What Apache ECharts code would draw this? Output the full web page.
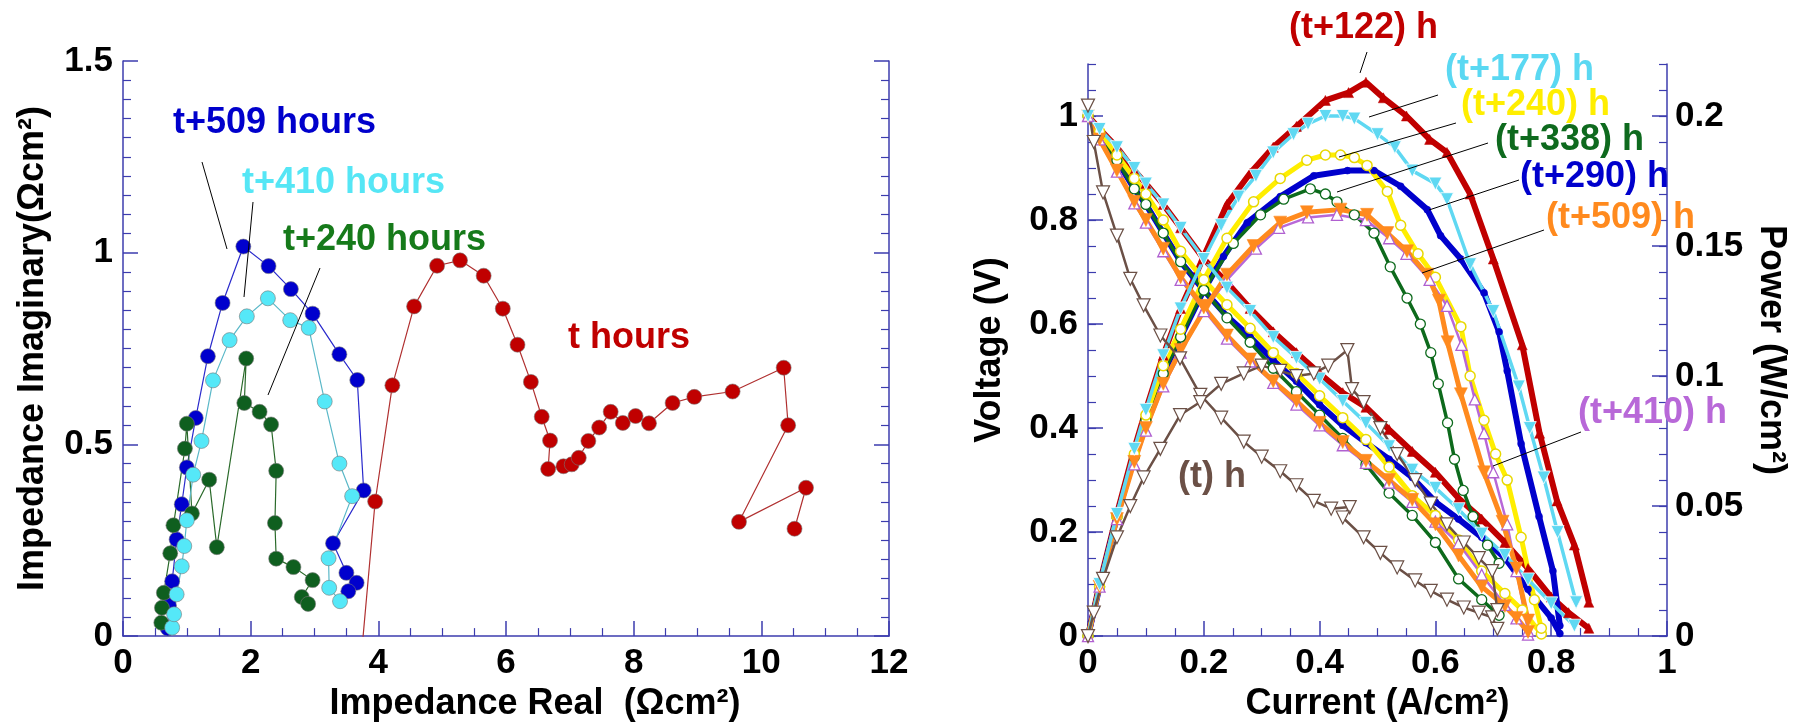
<!DOCTYPE html>
<html>
<head>
<meta charset="utf-8">
<style>
  html, body { margin: 0; padding: 0; background: #fff; }
  #main { width: 1798px; height: 727px; }
</style>
<script src="https://cdn.jsdelivr.net/npm/echarts/dist/echarts.min.js"></script>
</head>
<body>
<div id="main"></div>
<script>
  // Nyquist plot (left): [real, imaginary] in Ohm cm2
  var nyqT = [[3.74, -0.04], [3.95, 0.351], [4.22, 0.654], [4.56, 0.86], [4.92, 0.966], [5.28, 0.98], [5.65, 0.94],
    [5.95, 0.854], [6.18, 0.76], [6.39, 0.663], [6.56, 0.572], [6.69, 0.51], [6.66, 0.436], [6.90, 0.443],
    [7.03, 0.448], [7.14, 0.465], [7.29, 0.509], [7.46, 0.544], [7.64, 0.585], [7.83, 0.556], [8.03, 0.574],
    [8.24, 0.555], [8.61, 0.608], [8.95, 0.624], [9.55, 0.638], [10.35, 0.70], [10.42, 0.55], [9.65, 0.298],
    [10.70, 0.387], [10.52, 0.28]];
  var nyq240 = [[0.60, 0.035], [0.61, 0.074], [0.64, 0.113], [0.74, 0.216], [0.79, 0.289], [0.97, 0.489], [1.0, 0.554],
    [1.08, 0.32], [1.35, 0.408], [1.47, 0.232], [1.93, 0.724], [1.90, 0.608], [2.14, 0.585], [2.32, 0.552],
    [2.40, 0.431], [2.38, 0.295], [2.40, 0.202], [2.67, 0.180], [2.97, 0.146], [2.80, 0.102], [2.90, 0.084]];
  var nyq410 = [[0.77, 0.022], [0.80, 0.057], [0.84, 0.109], [0.92, 0.182], [0.96, 0.235], [1.0, 0.302], [1.10, 0.421],
    [1.23, 0.509], [1.41, 0.667], [1.67, 0.772], [1.94, 0.834], [2.27, 0.881], [2.62, 0.824], [2.91, 0.804],
    [3.16, 0.612], [3.39, 0.450], [3.59, 0.365], [3.22, 0.203], [3.23, 0.126], [3.40, 0.091]];
  var nyq509 = [[0.70, 0.02], [0.72, 0.08], [0.77, 0.143], [0.84, 0.252], [0.92, 0.344], [1.0, 0.44], [1.14, 0.569],
    [1.33, 0.73], [1.56, 0.869], [1.885, 1.016], [2.28, 0.965], [2.63, 0.905], [2.97, 0.841], [3.39, 0.735],
    [3.67, 0.668], [3.77, 0.38], [3.29, 0.242], [3.50, 0.165], [3.66, 0.139], [3.53, 0.117]];

  // Polarisation curves (right): [current A/cm2, voltage V]
  var volt122 = [[0, 1.0], [0.02, 0.975], [0.05, 0.94], [0.08, 0.895], [0.1, 0.87], [0.13, 0.83], [0.16, 0.785], [0.2, 0.725],
    [0.24, 0.68], [0.28, 0.63], [0.32, 0.585], [0.36, 0.545], [0.4, 0.505], [0.44, 0.468], [0.48, 0.44], [0.52, 0.397],
    [0.56, 0.355], [0.6, 0.315], [0.64, 0.265], [0.68, 0.225], [0.72, 0.18], [0.76, 0.13], [0.8, 0.075], [0.83, 0.045],
    [0.865, 0.015]];
  var volt177 = [[0, 1.0], [0.02, 0.975], [0.05, 0.94], [0.08, 0.9], [0.1, 0.87], [0.13, 0.83], [0.16, 0.785], [0.2, 0.725],
    [0.24, 0.67], [0.28, 0.625], [0.32, 0.575], [0.36, 0.535], [0.4, 0.495], [0.44, 0.452], [0.48, 0.41], [0.52, 0.365],
    [0.56, 0.32], [0.6, 0.285], [0.64, 0.244], [0.68, 0.197], [0.72, 0.156], [0.76, 0.109], [0.8, 0.063], [0.84, 0.02]];
  var volt240 = [[0, 1.0], [0.02, 0.97], [0.05, 0.925], [0.08, 0.88], [0.1, 0.85], [0.13, 0.8], [0.16, 0.74], [0.2, 0.685],
    [0.24, 0.637], [0.28, 0.592], [0.32, 0.545], [0.36, 0.505], [0.4, 0.462], [0.44, 0.42], [0.48, 0.378], [0.52, 0.325],
    [0.56, 0.27], [0.6, 0.232], [0.64, 0.185], [0.68, 0.125], [0.72, 0.082], [0.75, 0.05], [0.783, 0.004]];
  var volt290 = [[0, 1.0], [0.02, 0.965], [0.05, 0.915], [0.08, 0.86], [0.1, 0.83], [0.13, 0.775], [0.16, 0.72], [0.2, 0.665],
    [0.24, 0.615], [0.28, 0.575], [0.32, 0.53], [0.36, 0.49], [0.4, 0.445], [0.44, 0.405], [0.48, 0.372], [0.52, 0.34],
    [0.56, 0.305], [0.6, 0.258], [0.64, 0.225], [0.68, 0.19], [0.72, 0.15], [0.76, 0.09], [0.8, 0.035], [0.815, 0.005]];
  var volt338 = [[0, 1.0], [0.02, 0.965], [0.05, 0.915], [0.08, 0.86], [0.1, 0.83], [0.13, 0.775], [0.16, 0.72], [0.2, 0.665],
    [0.24, 0.612], [0.28, 0.565], [0.32, 0.515], [0.36, 0.47], [0.4, 0.425], [0.44, 0.38], [0.48, 0.33], [0.52, 0.275],
    [0.56, 0.232], [0.6, 0.18], [0.64, 0.11], [0.68, 0.07], [0.71, 0.04]];
  var volt509 = [[0, 1.0], [0.02, 0.955], [0.05, 0.895], [0.08, 0.835], [0.1, 0.8], [0.13, 0.745], [0.16, 0.69], [0.2, 0.632],
    [0.24, 0.578], [0.28, 0.532], [0.32, 0.49], [0.36, 0.452], [0.4, 0.41], [0.44, 0.373], [0.48, 0.337], [0.52, 0.3],
    [0.56, 0.262], [0.6, 0.215], [0.64, 0.155], [0.68, 0.095], [0.72, 0.058], [0.74, 0.035], [0.76, 0.008]];
  var volt410 = [[0, 1.0], [0.02, 0.955], [0.05, 0.893], [0.08, 0.832], [0.1, 0.795], [0.13, 0.74], [0.16, 0.685], [0.2, 0.627],
    [0.24, 0.572], [0.28, 0.528], [0.32, 0.487], [0.36, 0.445], [0.4, 0.405], [0.44, 0.367], [0.48, 0.333], [0.52, 0.295],
    [0.56, 0.258], [0.6, 0.22], [0.64, 0.178], [0.68, 0.118], [0.72, 0.06], [0.74, 0.034], [0.76, 0.003]];
  var voltT = [[0, 1.02], [0.01, 0.95], [0.026, 0.853], [0.05, 0.77], [0.073, 0.687], [0.096, 0.636], [0.125, 0.578],
    [0.159, 0.534], [0.194, 0.464], [0.23, 0.42], [0.269, 0.374], [0.3, 0.345], [0.332, 0.317], [0.36, 0.29], [0.39, 0.26],
    [0.42, 0.245], [0.452, 0.248], [0.44, 0.228], [0.476, 0.19], [0.505, 0.16], [0.534, 0.132], [0.565, 0.107],
    [0.592, 0.087], [0.62, 0.07], [0.649, 0.055], [0.675, 0.045], [0.698, 0.036], [0.707, 0.014]];

  // Power curves (right): [current A/cm2, power W/cm2]
  var pow122 = [[0, 0], [0.02, 0.02], [0.05, 0.047], [0.08, 0.072], [0.1, 0.087], [0.13, 0.108], [0.16, 0.126], [0.2, 0.146],
    [0.24, 0.166], [0.28, 0.178], [0.32, 0.188], [0.36, 0.196], [0.41, 0.206], [0.45, 0.209], [0.48, 0.213], [0.51, 0.207],
    [0.55, 0.2], [0.59, 0.191], [0.62, 0.186], [0.66, 0.17], [0.7, 0.145], [0.75, 0.112], [0.78, 0.078], [0.81, 0.052],
    [0.84, 0.035], [0.865, 0.013]];
  var pow177 = [[0, 0], [0.02, 0.02], [0.05, 0.047], [0.08, 0.072], [0.1, 0.087], [0.13, 0.108], [0.16, 0.126], [0.2, 0.145],
    [0.23, 0.158], [0.26, 0.169], [0.29, 0.177], [0.32, 0.186], [0.355, 0.193], [0.38, 0.197], [0.41, 0.2], [0.44, 0.2],
    [0.46, 0.199], [0.5, 0.193], [0.53, 0.188], [0.56, 0.179], [0.6, 0.174], [0.62, 0.168], [0.66, 0.143], [0.7, 0.125],
    [0.744, 0.096], [0.763, 0.08], [0.787, 0.061], [0.811, 0.04], [0.843, 0.013]];
  var pow240 = [[0, 0], [0.02, 0.019], [0.05, 0.046], [0.08, 0.07], [0.1, 0.085], [0.13, 0.104], [0.16, 0.118], [0.2, 0.137],
    [0.24, 0.153], [0.286, 0.167], [0.332, 0.176], [0.378, 0.183], [0.41, 0.185], [0.436, 0.185], [0.46, 0.184],
    [0.482, 0.181], [0.517, 0.171], [0.54, 0.158], [0.57, 0.147], [0.6, 0.138], [0.644, 0.119], [0.66, 0.1],
    [0.684, 0.083], [0.704, 0.07], [0.724, 0.06], [0.748, 0.038], [0.771, 0.014], [0.783, 0.003]];
  var pow290 = [[0, 0], [0.02, 0.019], [0.05, 0.046], [0.08, 0.069], [0.1, 0.083], [0.13, 0.101], [0.16, 0.115], [0.2, 0.133],
    [0.234, 0.146], [0.275, 0.159], [0.332, 0.169], [0.39, 0.177], [0.448, 0.179], [0.494, 0.179], [0.54, 0.173],
    [0.586, 0.164], [0.609, 0.154], [0.644, 0.145], [0.684, 0.132], [0.71, 0.117], [0.724, 0.102], [0.748, 0.074],
    [0.779, 0.046], [0.803, 0.025], [0.815, 0.004]];
  var pow338 = [[0, 0], [0.02, 0.019], [0.05, 0.046], [0.08, 0.069], [0.1, 0.083], [0.13, 0.101], [0.16, 0.115], [0.2, 0.133],
    [0.251, 0.151], [0.298, 0.162], [0.338, 0.168], [0.384, 0.172], [0.41, 0.17], [0.43, 0.167], [0.46, 0.162],
    [0.494, 0.155], [0.522, 0.142], [0.551, 0.13], [0.574, 0.12], [0.592, 0.109], [0.605, 0.097], [0.621, 0.082],
    [0.633, 0.068], [0.648, 0.056], [0.665, 0.046], [0.69, 0.035], [0.71, 0.028]];
  var pow509 = [[0, 0], [0.02, 0.019], [0.05, 0.045], [0.08, 0.067], [0.1, 0.08], [0.13, 0.097], [0.16, 0.11], [0.205, 0.127],
    [0.24, 0.139], [0.286, 0.15], [0.332, 0.159], [0.378, 0.163], [0.436, 0.164], [0.482, 0.162], [0.517, 0.155],
    [0.551, 0.148], [0.586, 0.139], [0.606, 0.129], [0.621, 0.113], [0.644, 0.093], [0.684, 0.063], [0.716, 0.044],
    [0.74, 0.026], [0.76, 0.006]];
  var pow410 = [[0, 0], [0.02, 0.019], [0.05, 0.045], [0.08, 0.066], [0.1, 0.079], [0.13, 0.096], [0.16, 0.109], [0.2, 0.125],
    [0.24, 0.137], [0.29, 0.149], [0.33, 0.157], [0.38, 0.161], [0.43, 0.162], [0.48, 0.16], [0.52, 0.153], [0.55, 0.147],
    [0.59, 0.137], [0.62, 0.127], [0.645, 0.112], [0.668, 0.091], [0.684, 0.078], [0.7, 0.063], [0.724, 0.043],
    [0.74, 0.025], [0.76, 0.002]];
  var powT = [[0, 0], [0.01, 0.009], [0.026, 0.022], [0.05, 0.038], [0.073, 0.05], [0.096, 0.061], [0.125, 0.072],
    [0.159, 0.085], [0.194, 0.09], [0.23, 0.097], [0.269, 0.101], [0.3, 0.104], [0.332, 0.102], [0.36, 0.1], [0.39, 0.101],
    [0.415, 0.104], [0.448, 0.11], [0.456, 0.095], [0.476, 0.09], [0.505, 0.08], [0.534, 0.07], [0.565, 0.06],
    [0.592, 0.051], [0.62, 0.043], [0.649, 0.036], [0.675, 0.03], [0.698, 0.025], [0.707, 0.01]];

  var voltMajor = [0, 0.2, 0.4, 0.6, 0.8, 1];
  var powMajor = [0, 0.05, 0.1, 0.15, 0.2];

  var axisBlue = '#3c3cae';
  var font = 'Liberation Sans';

  function onlyEvery(step) {
    return function (v) {
      var k = v / step;
      return Math.abs(k - Math.round(k)) < 1e-6 ? String(+v.toFixed(2)) : '';
    };
  }

  function axisBase(extra) {
    var a = {
      axisLine: { show: true, onZero: false, lineStyle: { color: axisBlue, width: 1.5 } },
      axisTick: { show: true, inside: true, length: 15, lineStyle: { color: axisBlue, width: 1.5 } },
      axisLabel: { color: '#000', fontSize: 35, fontWeight: 'bold', fontFamily: font, margin: 10 },
      splitLine: { show: false },
      nameTextStyle: { color: '#000', fontSize: 36, fontWeight: 'bold', fontFamily: font }
    };
    for (var k in extra) a[k] = extra[k];
    return a;
  }

  function nyqSeries(name, data, fill, line) {
    return {
      name: name, type: 'line', xAxisIndex: 0, yAxisIndex: 0, data: data,
      symbol: 'circle', symbolSize: 15, clip: true,
      lineStyle: { color: line, width: 1.2 },
      itemStyle: { color: fill, borderColor: '#777', borderWidth: 0.6 }
    };
  }

  function polSeries(name, data, axis, opt) {
    return {
      name: name, type: 'line', xAxisIndex: 1, yAxisIndex: axis, data: data,
      symbol: opt.symbol, symbolSize: opt.size, symbolRotate: opt.rotate || 0, clip: true,
      lineStyle: { color: opt.line, width: opt.width },
      itemStyle: { color: opt.fill, borderColor: opt.border, borderWidth: opt.bw }
    };
  }

  var sty = {
    r122: { symbol: 'triangle', size: 10, line: '#c00000', width: 6, fill: '#c00000', border: '#c00000', bw: 0.5 },
    b290: { symbol: 'circle', size: 7, line: '#0000cc', width: 6, fill: '#0000cc', border: '#0000cc', bw: 0.5 },
    g338: { symbol: 'circle', size: 10, line: '#0d6a1c', width: 3.5, fill: '#fff', border: '#0d6a1c', bw: 1.3 },
    y240: { symbol: 'circle', size: 10, line: '#ffee00', width: 5, fill: '#fff', border: '#e8d800', bw: 1.5 },
    p410: { symbol: 'triangle', size: 11, line: '#b868d8', width: 2.5, fill: '#fff', border: '#b060d0', bw: 1.3 },
    o509: { symbol: 'triangle', size: 13, rotate: 180, line: '#ff8a1e', width: 5, fill: '#ff8a1e', border: '#ff8a1e', bw: 0.5 },
    c177: { symbol: 'triangle', size: 13, rotate: 180, line: '#5fd8f2', width: 3.5, fill: '#5fd8f2', border: '#fff', bw: 0.8 },
    t0: { symbol: 'triangle', size: 13, rotate: 180, line: '#6b5046', width: 2.5, fill: '#fff', border: '#6b5046', bw: 1.2 }
  };

  var chart = echarts.init(document.getElementById('main'));

  function txt(s, x, y, color) {
    return { type: 'text', z: 100, style: { text: s, x: x, y: y, fill: color, font: 'bold 36px "' + font + '"', verticalAlign: 'middle' } };
  }
  function lead(x1, y1, x2, y2) {
    return { type: 'line', z: 100, shape: { x1: x1, y1: y1, x2: x2, y2: y2 }, style: { stroke: '#000', lineWidth: 1 } };
  }

  chart.setOption({
    animation: false,
    backgroundColor: '#fff',
    textStyle: { fontFamily: font },
    grid: [
      { left: 123, right: 909, top: 61, bottom: 85 },
      { left: 1088, right: 131, top: 64, bottom: 88 }
    ],
    xAxis: [
      axisBase({
        type: 'value', gridIndex: 0, min: 0, max: 12, interval: 2,
        minorTick: { show: true, splitNumber: 4, length: 8, lineStyle: { color: axisBlue, width: 1.2 } },
        name: 'Impedance Real  (Ωcm²)', nameLocation: 'middle', nameGap: 46,
        nameTextStyle: { color: '#000', fontSize: 36, fontWeight: 'bold', fontFamily: font, padding: [0, 0, 0, 58] }
      }),
      axisBase({
        type: 'value', gridIndex: 1, min: 0, max: 1, interval: 0.2,
        minorTick: { show: true, splitNumber: 4, length: 8, lineStyle: { color: axisBlue, width: 1.2 } },
        name: 'Current (A/cm²)', nameLocation: 'middle', nameGap: 46
      })
    ],
    yAxis: [
      axisBase({
        type: 'value', gridIndex: 0, min: 0, max: 1.5, interval: 0.5,
        minorTick: { show: true, splitNumber: 10, length: 8, lineStyle: { color: axisBlue, width: 1.2 } },
        name: 'Impedance Imaginary(Ωcm²)', nameLocation: 'middle', nameGap: 72, nameRotate: 90
      }),
      axisBase({
        type: 'value', gridIndex: 0, position: 'right', min: 0, max: 1.5, interval: 0.5,
        axisLabel: { show: false },
        minorTick: { show: true, splitNumber: 10, length: 8, lineStyle: { color: axisBlue, width: 1.2 } }
      }),
      axisBase({
        type: 'value', gridIndex: 1, position: 'left', min: 0, max: 1.1, interval: 0.05,
        axisTick: { show: true, inside: true, length: 8, lineStyle: { color: axisBlue, width: 1.2 } },
        axisLabel: { color: '#000', fontSize: 35, fontWeight: 'bold', fontFamily: font, margin: 10, interval: 0, formatter: onlyEvery(0.2) },
        name: 'Voltage (V)', nameLocation: 'middle', nameGap: 80, nameRotate: 90
      }),
      axisBase({
        type: 'value', gridIndex: 1, position: 'left', min: 0, max: 1.1, interval: 0.2,
        axisLine: { show: false },
        axisTick: { show: true, inside: true, length: 15, customValues: voltMajor, lineStyle: { color: axisBlue, width: 1.5 } },
        axisLabel: { show: false }
      }),
      axisBase({
        type: 'value', gridIndex: 1, position: 'right', min: 0, max: 0.22, interval: 0.01,
        axisTick: { show: true, inside: true, length: 8, lineStyle: { color: axisBlue, width: 1.2 } },
        axisLabel: { color: '#000', fontSize: 35, fontWeight: 'bold', fontFamily: font, margin: 8, interval: 0, formatter: onlyEvery(0.05) },
        name: 'Power (W/cm²)', nameLocation: 'middle', nameGap: 86, nameRotate: -90
      }),
      axisBase({
        type: 'value', gridIndex: 1, position: 'right', min: 0, max: 0.22, interval: 0.05,
        axisLine: { show: false },
        axisTick: { show: true, inside: true, length: 15, customValues: powMajor, lineStyle: { color: axisBlue, width: 1.5 } },
        axisLabel: { show: false }
      })
    ],
    series: [
      nyqSeries('t+509 hours', nyq509, '#0000cd', '#2a2acc'),
      nyqSeries('t+240 hours', nyq240, '#0f5f1f', '#2a6a2a'),
      nyqSeries('t+410 hours', nyq410, '#55e8f8', '#5ab8c8'),
      nyqSeries('t hours', nyqT, '#c00000', '#b03030'),

      polSeries('(t+122) h V', volt122, 2, sty.r122),
      polSeries('(t+122) h P', pow122, 4, sty.r122),
      polSeries('(t+290) h V', volt290, 2, sty.b290),
      polSeries('(t+290) h P', pow290, 4, sty.b290),
      polSeries('(t+338) h V', volt338, 2, sty.g338),
      polSeries('(t+338) h P', pow338, 4, sty.g338),
      polSeries('(t+240) h V', volt240, 2, sty.y240),
      polSeries('(t+240) h P', pow240, 4, sty.y240),
      polSeries('(t+410) h V', volt410, 2, sty.p410),
      polSeries('(t+410) h P', pow410, 4, sty.p410),
      polSeries('(t+509) h V', volt509, 2, sty.o509),
      polSeries('(t+509) h P', pow509, 4, sty.o509),
      polSeries('(t+177) h V', volt177, 2, sty.c177),
      polSeries('(t+177) h P', pow177, 4, sty.c177),
      polSeries('(t) h V', voltT, 2, sty.t0),
      polSeries('(t) h P', powT, 4, sty.t0)
    ],
    graphic: [
      txt('t+509 hours', 173, 123, '#0000cc'),
      txt('t+410 hours', 242, 183, '#55e6f5'),
      txt('t+240 hours', 283, 240, '#167a1a'),
      txt('t hours', 568, 338, '#c00000'),
      lead(202, 162, 227, 249),
      lead(253, 202, 244, 297),
      lead(320, 268, 268, 395),

      txt('(t+122) h', 1289, 28, '#c00000'),
      txt('(t+177) h', 1445, 70, '#5ad8f2'),
      txt('(t+240) h', 1461, 105, '#ffee00'),
      txt('(t+338) h', 1495, 140, '#0e6a1e'),
      txt('(t+290) h', 1520, 177, '#0000cc'),
      txt('(t+509) h', 1546, 218, '#ff8a1e'),
      txt('(t+410) h', 1578, 413, '#b868d8'),
      txt('(t) h', 1178, 477, '#6b5046'),
      lead(1367, 52, 1360, 73),
      lead(1438, 95, 1369, 117),
      lead(1456, 123, 1339, 157),
      lead(1488, 143, 1337, 192),
      lead(1519, 180, 1429, 210),
      lead(1544, 230, 1422, 273),
      lead(1581, 432, 1493, 466)
    ]
  });
</script>
</body>
</html>
